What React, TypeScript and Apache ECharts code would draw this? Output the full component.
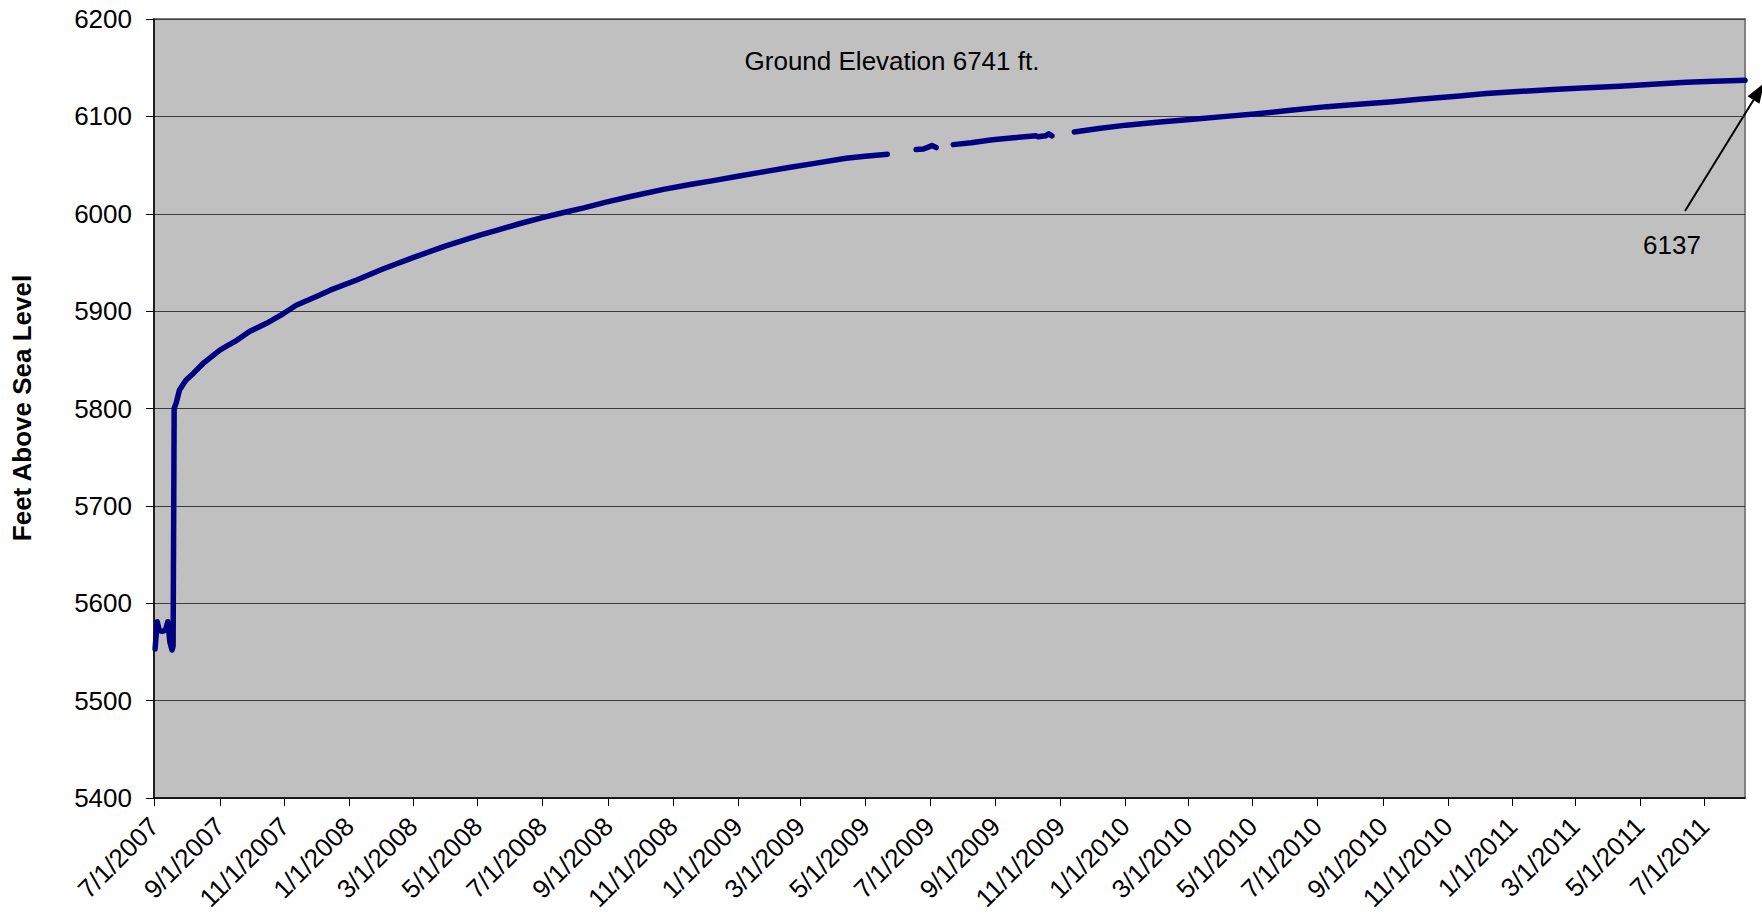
import React, { useEffect, useRef } from "react";
import * as echarts from "echarts";

const FONT = 'Arial, "Liberation Sans", sans-serif';

const axisStart = "2007-07-01";
const axisEnd = "2011-08-08";

const tickDates = [
  "2007-07-01", "2007-09-01", "2007-11-01",
  "2008-01-01", "2008-03-01", "2008-05-01", "2008-07-01", "2008-09-01", "2008-11-01",
  "2009-01-01", "2009-03-01", "2009-05-01", "2009-07-01", "2009-09-01", "2009-11-01",
  "2010-01-01", "2010-03-01", "2010-05-01", "2010-07-01", "2010-09-01", "2010-11-01",
  "2011-01-01", "2011-03-01", "2011-05-01", "2011-07-01",
];

const yMin = 5400;
const yMax = 6200;
const yStep = 100;

// water level readings (feet above sea level); null = no data (gap)
const readingDates = [
  "2007-07-02", "2007-07-04", "2007-07-06", "2007-07-09", "2007-07-12", "2007-07-14",
  "2007-07-16", "2007-07-18", "2007-07-19", "2007-07-20", "2007-07-22", "2007-07-25",
  "2007-07-31", "2007-08-07", "2007-08-16", "2007-08-24", "2007-09-01", "2007-09-09",
  "2007-09-17", "2007-09-29", "2007-10-15", "2007-10-31", "2007-11-12", "2007-12-01",
  "2007-12-14", "2008-01-08", "2008-02-01", "2008-03-01", "2008-04-01", "2008-05-03",
  "2008-05-22", "2008-06-10", "2008-07-01", "2008-07-20", "2008-08-09", "2008-08-30",
  "2008-09-23", "2008-10-23", "2008-11-17", "2008-12-09", "2009-01-01", "2009-01-25",
  "2009-02-18", "2009-03-13", "2009-04-13", "2009-05-01", "2009-05-22",
  "2009-06-01",
  "2009-06-18", "2009-06-25", "2009-07-03", "2009-07-07",
  "2009-07-15",
  "2009-07-23", "2009-08-09", "2009-08-29", "2009-09-18", "2009-10-09",
  "2009-10-10",
  "2009-10-11", "2009-10-18", "2009-10-21", "2009-10-24",
  "2009-11-01",
  "2009-11-14", "2009-12-07", "2010-01-02", "2010-01-31", "2010-03-06", "2010-04-06",
  "2010-05-08", "2010-06-08", "2010-07-10", "2010-08-09", "2010-09-10", "2010-10-05",
  "2010-11-12", "2010-12-07", "2011-01-06", "2011-02-08", "2011-03-12", "2011-04-12",
  "2011-05-13", "2011-06-14", "2011-07-10", "2011-08-08",
];

const readingFeet: (number | null)[] = [
  5553, 5581, 5572, 5571, 5573, 5581,
  5560, 5552, 5556, 5800, 5806, 5819,
  5829, 5836, 5846, 5853, 5860, 5865,
  5870, 5879, 5887.5, 5897.5, 5906, 5915,
  5921.5, 5932, 5943, 5955, 5967, 5978,
  5984, 5990, 5996, 6001, 6006, 6012,
  6018, 6025, 6030, 6034, 6038.5, 6043,
  6047.5, 6051.5, 6057, 6059, 6061,
  null,
  6066, 6066.5, 6070, 6068,
  null,
  6071, 6073, 6076, 6078, 6080,
  null,
  6079, 6080, 6082, 6080,
  null,
  6084, 6087.5, 6091, 6094, 6097, 6100,
  6103, 6106.5, 6110, 6112.5, 6115, 6117.5,
  6121, 6123.5, 6125.5, 6127.5, 6129.5, 6131,
  6133, 6135, 6136, 6137,
];

const titleText = "Ground Elevation 6741 ft.";
const yAxisTitle = "Feet Above Sea Level";
const finalLabel = "6137";

const toTs = (s: string) => {
  const [y, m, d] = s.split("-").map(Number);
  return Date.UTC(y, m - 1, d);
};
const fmt = (v: number) => {
  const d = new Date(v);
  return `${d.getUTCMonth() + 1}/${d.getUTCDate()}/${d.getUTCFullYear()}`;
};

export default function App() {
  const ref = useRef<HTMLDivElement>(null);
  useEffect(() => {
    if (!ref.current) return;
    const chart = echarts.init(ref.current, null, { renderer: "svg" });
    const ticks = tickDates.map(toTs);
    const data = readingDates.map((d, i) => [toTs(d), readingFeet[i] === null ? "-" : readingFeet[i]]);

    // arrow geometry (annotation)
    const ux = 0.534, uy = -0.846, px = 0.846, py = 0.534;
    const bx = 1753.5, by = 100;
    const tx = bx + 20 * ux, ty = by + 20 * uy;

    chart.setOption({
      animation: false,
      textStyle: { fontFamily: FONT },
      grid: {
        left: 154,
        right: 17,
        top: 19,
        bottom: 118,
        show: true,
        backgroundColor: "#C0C0C0",
        borderColor: "#808080",
        borderWidth: 2,
        containLabel: false,
        outerBoundsMode: "none",
      },
      xAxis: {
        type: "value",
        min: toTs(axisStart),
        max: toTs(axisEnd),
        axisLine: { show: true, onZero: false, lineStyle: { color: "#000", width: 1.5 } },
        axisTick: { show: true, length: 8, customValues: ticks, lineStyle: { color: "#000", width: 1 } },
        axisLabel: {
          customValues: ticks,
          rotate: 45,
          margin: 24,
          fontSize: 26,
          color: "#000",
          fontFamily: FONT,
          formatter: (v: number) => fmt(v),
        },
        splitLine: { show: false },
      },
      yAxis: {
        type: "value",
        min: yMin,
        max: yMax,
        interval: yStep,
        axisLine: { show: true, lineStyle: { color: "#000", width: 1.5 } },
        axisTick: { show: true, length: 8, lineStyle: { color: "#000", width: 1 } },
        axisLabel: {
          margin: 22,
          fontSize: 26,
          color: "#000",
          fontFamily: FONT,
          formatter: (v: number) => String(v),
        },
        splitLine: { show: true, lineStyle: { color: "#3c3c3c", width: 1 } },
      },
      series: [
        {
          type: "line",
          data,
          showSymbol: false,
          connectNulls: false,
          lineStyle: { color: "#000080", width: 5.5, join: "round", cap: "round" },
          itemStyle: { color: "#000080" },
        },
      ],
      graphic: [
        {
          type: "text",
          x: 22,
          y: 408,
          rotation: Math.PI / 2,
          style: {
            text: yAxisTitle,
            fontSize: 26,
            fontWeight: "bold",
            fontFamily: FONT,
            fill: "#000",
            align: "center",
            verticalAlign: "middle",
          },
        },
        {
          type: "text",
          x: 892,
          y: 61,
          style: {
            text: titleText,
            fontSize: 26,
            fontFamily: FONT,
            fill: "#000",
            align: "center",
            verticalAlign: "middle",
          },
        },
        {
          type: "text",
          x: 1672,
          y: 245,
          style: {
            text: finalLabel,
            fontSize: 26,
            fontFamily: FONT,
            fill: "#000",
            align: "center",
            verticalAlign: "middle",
          },
        },
        {
          type: "line",
          shape: { x1: 1685, y1: 211, x2: bx, y2: by },
          style: { stroke: "#000", lineWidth: 2 },
        },
        {
          type: "polygon",
          shape: {
            points: [
              [tx, ty],
              [bx + 7 * px, by + 7 * py],
              [bx - 7 * px, by - 7 * py],
            ],
          },
          style: { fill: "#000" },
        },
      ],
    });
    return () => chart.dispose();
  }, []);
  return <div ref={ref} style={{ position: "absolute", left: 0, top: 0, width: 1762, height: 916 }} />;
}
